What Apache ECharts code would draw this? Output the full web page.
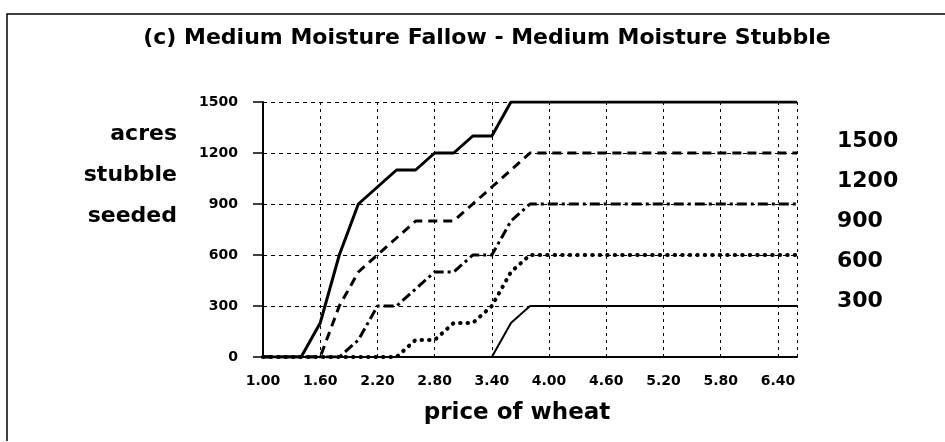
<!DOCTYPE html>
<html>
<head>
<meta charset="utf-8">
<script src="https://cdn.jsdelivr.net/npm/echarts@6/dist/echarts.min.js"></script>
<style>
  html, body { margin: 0; padding: 0; background: #fff; }
  #chart { width: 945px; height: 442px; }
</style>
</head>
<body>
<div id="chart"></div>
<script>
// price of wheat ($/bu) break points and acres of stubble seeded, one pair per curve
const p1500 = [1.0, 1.4, 1.6, 1.8, 2.0, 2.2, 2.4, 2.6, 2.8, 3.0, 3.2, 3.4, 3.6, 6.6]
const a1500 = [0, 0, 200, 600, 900, 1000, 1100, 1100, 1200, 1200, 1300, 1300, 1500, 1500]

const p1200 = [1.0, 1.6, 1.8, 2.0, 2.2, 2.4, 2.6, 2.8, 3.0, 3.2, 3.4, 3.6, 3.8, 6.6]
const a1200 = [0, 0, 300, 500, 600, 700, 800, 800, 800, 900, 1000, 1100, 1200, 1200]

const p900 = [1.0, 1.8, 2.0, 2.2, 2.4, 2.6, 2.8, 3.0, 3.2, 3.4, 3.6, 3.8, 6.6]
const a900 = [0, 0, 100, 300, 300, 400, 500, 500, 600, 600, 800, 900, 900]

const p600 = [1.0, 2.4, 2.6, 2.8, 3.0, 3.2, 3.4, 3.6, 3.8, 6.6]
const a600 = [0, 0, 100, 100, 200, 200, 300, 500, 600, 600]

const p300 = [1.0, 3.4, 3.6, 3.8, 6.6]
const a300 = [0, 0, 200, 300, 300]

const rightLabels = ['1500', '1200', '900', '600', '300']
const leftLabels = ['acres', 'stubble', 'seeded']

const font = '"DejaVu Sans", Verdana, sans-serif'

function pairs(xs, ys) {
  return xs.map((x, i) => [x, ys[i]])
}

const chart = echarts.init(document.getElementById('chart'))

function lineSeries(xs, ys, width, type, cap) {
  return {
    type: 'line',
    data: pairs(xs, ys),
    symbol: 'none',
    silent: true,
    animation: false,
    lineStyle: {
      color: '#000',
      width: width,
      type: type,
      cap: cap || 'butt'
    }
  }
}

function bigText(t, x, y, align, size) {
  return {
    type: 'text',
    x: x,
    y: y,
    silent: true,
    style: {
      text: t,
      fontFamily: font,
      fontWeight: 'bold',
      fontSize: size || 22,
      fill: '#000',
      textAlign: align,
      textVerticalAlign: 'middle'
    }
  }
}

chart.setOption({
  backgroundColor: '#fff',
  grid: {
    left: 263,
    right: 148,
    top: 102,
    bottom: 85
  },
  xAxis: {
    type: 'value',
    min: 1.0,
    max: 6.6,
    interval: 0.6,
    axisLine: { show: true, lineStyle: { color: '#000', width: 2 } },
    axisTick: { show: false },
    axisLabel: {
      showMaxLabel: false,
      margin: 17,
      fontFamily: font,
      fontWeight: 'bold',
      fontSize: 14,
      color: '#000',
      formatter: v => v.toFixed(2)
    },
    splitLine: {
      show: true,
      lineStyle: { color: '#000', width: 1, type: [3, 4] }
    }
  },
  yAxis: {
    type: 'value',
    min: 0,
    max: 1500,
    interval: 300,
    axisLine: { show: true, lineStyle: { color: '#000', width: 2 } },
    axisTick: { show: true, length: 10, lineStyle: { color: '#000', width: 1.5 } },
    axisLabel: {
      margin: 25,
      fontFamily: font,
      fontWeight: 'bold',
      fontSize: 14,
      color: '#000',
      formatter: v => String(v)
    },
    splitLine: {
      show: true,
      lineStyle: { color: '#000', width: 1, type: [4, 4] }
    }
  },
  series: [
    lineSeries(p1500, a1500, 3, 'solid'),
    lineSeries(p1200, a1200, 3, [9, 6]),
    lineSeries(p900, a900, 3, [10, 4, 3, 4]),
    lineSeries(p600, a600, 4, [0.5, 7], 'round'),
    lineSeries(p300, a300, 2, 'solid')
  ],
  graphic: [
    {
      type: 'polyline',
      silent: true,
      shape: { points: [[7, 441], [7, 14], [945, 14]] },
      style: { stroke: '#000', lineWidth: 1.5, fill: null }
    },
    bigText('(c) Medium Moisture Fallow - Medium Moisture Stubble', 487, 38, 'center'),
    bigText('price of wheat', 517, 413, 'center', 23),
    ...leftLabels.map((t, i) => bigText(t, 177, 134 + i * 41, 'right')),
    ...rightLabels.map((t, i) => bigText(t, 837, 141 + i * 40, 'left'))
  ]
})
</script>
</body>
</html>
